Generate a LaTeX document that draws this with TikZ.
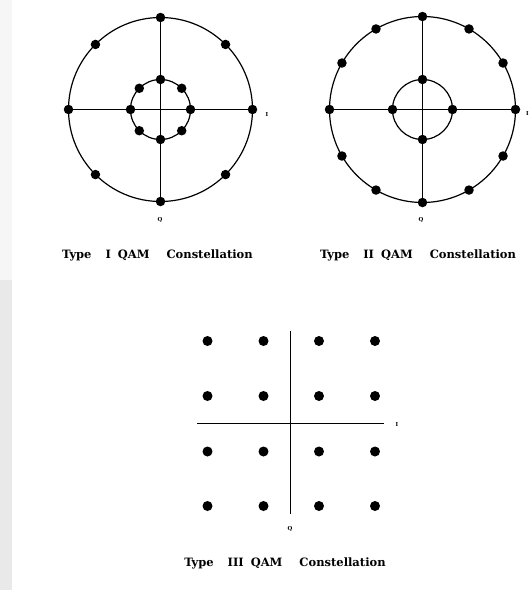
\documentclass[tikz,border=0pt]{standalone}
\usepackage{fontspec}
\usetikzlibrary{calc}
\newfontfamily\capfont{DejaVu Serif}
\newcommand{\capcaption}[4]{#1\hspace{14pt}#2\hspace{7pt}#3\hspace{17pt}#4}
\begin{document}
\begin{tikzpicture}[x=1pt,y=-1pt,
  dot/.style={circle,fill=black,inner sep=0pt,minimum size=9.5pt},
  ring/.style={draw=black,line width=1.2pt},
  axis/.style={draw=black,line width=1.2pt},
  axlabel/.style={font=\capfont\bfseries\fontsize{5.5}{6}\selectfont,inner sep=0pt},
  caption/.style={font=\capfont\bfseries\fontsize{11.5}{13}\selectfont,inner sep=0pt}]
\useasboundingbox (0,0) rectangle (529,590);
% faint watermark strip at the left edge
\fill[gray!7] (0,0) rectangle (12,280);
\fill[gray!17] (0,280) rectangle (12,590);
% ---------- Type I ----------
\coordinate (c1) at (160.5,109.5);
\draw[ring] (c1) circle[radius=92];
\draw[ring] (c1) circle[radius=30];
\foreach \a in {0,45,...,315}{
  \node[dot] (o1-\a) at ($(c1)+(\a:92)$) {};
  \node[dot] (i1-\a) at ($(c1)+(\a:30)$) {};
}
\draw[axis] (o1-180.center) -- (o1-0.center);
\draw[axis] (o1-90.center) -- (o1-270.center);
\node[axlabel] (I1) at (267,114) {I};
\node[axlabel] (Q1) at (160,220) {Q};
\node[caption] (cap1) at (157.5,255) {\capcaption{Type}{I}{QAM}{Constellation}};
% ---------- Type II ----------
\coordinate (c2) at (422.5,109.5);
\draw[ring] (c2) circle[radius=93];
\draw[ring] (c2) circle[radius=30];
\foreach \a in {0,30,...,330}{
  \node[dot] (o2-\a) at ($(c2)+(\a:93)$) {};
}
\foreach \a in {0,90,180,270}{
  \node[dot] (i2-\a) at ($(c2)+(\a:30)$) {};
}
\draw[axis] (o2-180.center) -- (o2-0.center);
\draw[axis] (o2-90.center) -- (o2-270.center);
\node[axlabel] (I2) at (527.5,113) {I};
\node[axlabel] (Q2) at (421,220) {Q};
\node[caption] (cap2) at (418,255) {\capcaption{Type}{II}{QAM}{Constellation}};
% ---------- Type III ----------
\foreach \c/\x in {1/207.5,2/263.5,3/319,4/375}{
  \foreach \r/\y in {1/341,2/396,3/451.5,4/506}{
    \node[dot,minimum size=10pt] (g-\c-\r) at (\x,\y) {};
  }
}
\coordinate (vt) at (290.5,331);
\coordinate (vb) at (290.5,514);
\coordinate (hl) at (197,423.5);
\coordinate (hr) at (384,423.5);
\draw[axis] (vt) -- (vb);
\draw[axis] (hl) -- (hr);
\node[axlabel] (I3) at (397,424) {I};
\node[axlabel] (Q3) at (290,529) {Q};
\node[caption] (cap3) at (285,563) {\capcaption{Type}{III}{QAM}{Constellation}};
\end{tikzpicture}
\end{document}
